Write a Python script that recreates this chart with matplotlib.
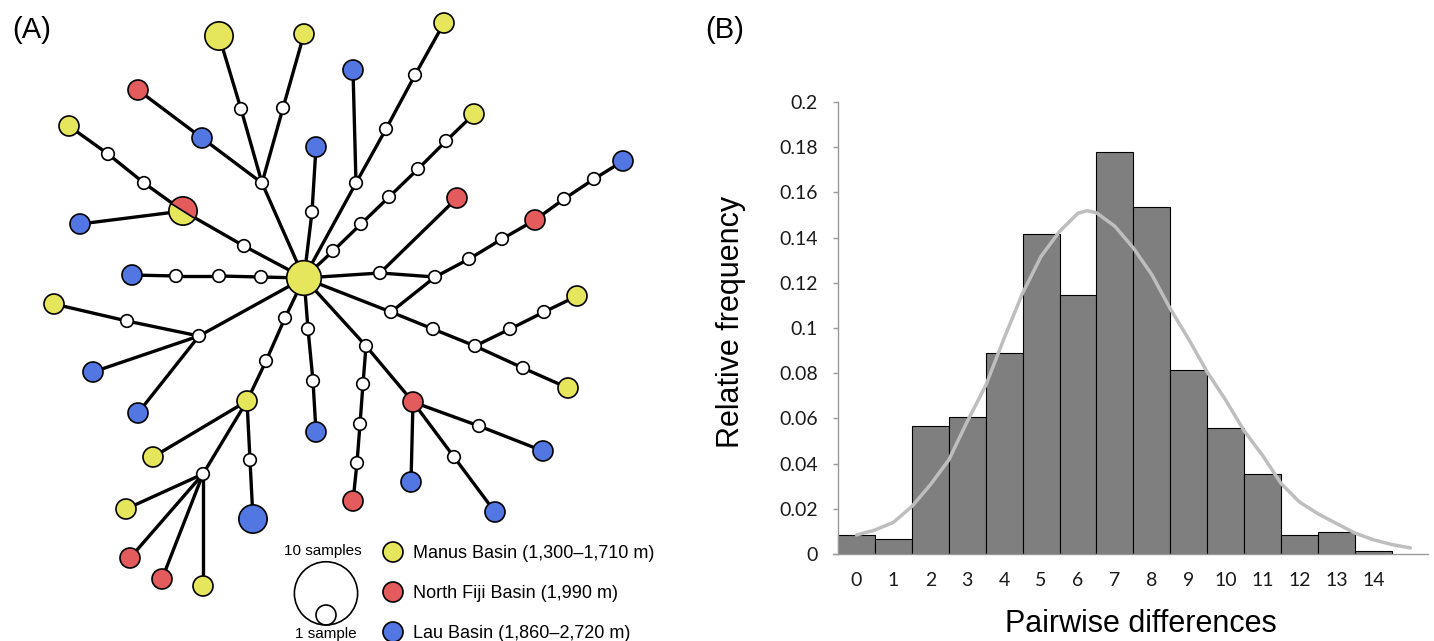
import math
import matplotlib
matplotlib.use("Agg")
import matplotlib.pyplot as plt
from matplotlib.patches import Circle, Wedge

# ---------------- Data: panel A (haplotype network) ----------------
region_names = ["Manus Basin (1,300\u20131,710 m)",
                "North Fiji Basin (1,990 m)",
                "Lau Basin (1,860\u20132,720 m)"]
region_colors = ["#E6E65C", "#E35B5C", "#5277E2"]

# node layout (x, y in panel units, y downward) and sample counts per region
node_x = [304, 262, 241, 219, 283, 304, 202, 138, 244, 183, 144, 108, 69, 80,
          261, 219, 176, 132, 312, 316, 356, 353, 386, 415, 444, 333, 361, 389,
          418, 446, 474, 380, 457, 435, 469, 502, 535, 564, 594, 623, 391, 433,
          475, 510, 544, 577, 523, 568, 366, 363, 360, 357, 353, 413, 479, 543,
          454, 495, 411, 308, 313, 316, 285, 266, 247, 153, 250, 253, 203, 126,
          130, 162, 203, 199, 127, 54, 93, 138]
node_y = [278, 183, 109, 36, 108, 34, 138, 90, 246, 211, 183, 154, 126, 224,
          277, 276, 276, 275, 212, 147, 183, 70, 129, 75, 23, 251, 224, 197,
          169, 141, 114, 273, 198, 277, 259, 239, 220, 199, 179, 161, 312, 329,
          346, 329, 312, 296, 368, 388, 346, 384, 424, 463, 501, 402, 426, 451,
          457, 512, 482, 329, 381, 432, 318, 361, 401, 457, 460, 519, 474, 509,
          558, 579, 586, 336, 321, 304, 372, 413]
manus = [3, 0, 0, 2, 0, 1, 0, 0, 0, 1, 0, 0, 1, 0,
         0, 0, 0, 0, 0, 0, 0, 0, 0, 0, 1, 0, 0, 0,
         0, 0, 1, 0, 0, 0, 0, 0, 0, 0, 0, 0, 0, 0,
         0, 0, 0, 1, 0, 1, 0, 0, 0, 0, 0, 0, 0, 0,
         0, 0, 0, 0, 0, 0, 0, 0, 1, 1, 0, 0, 0, 1,
         0, 0, 1, 0, 0, 1, 0, 0]
fiji = [0, 0, 0, 0, 0, 0, 0, 1, 0, 1, 0, 0, 0, 0,
        0, 0, 0, 0, 0, 0, 0, 0, 0, 0, 0, 0, 0, 0,
        0, 0, 0, 0, 1, 0, 0, 0, 1, 0, 0, 0, 0, 0,
        0, 0, 0, 0, 0, 0, 0, 0, 0, 0, 1, 1, 0, 0,
        0, 0, 0, 0, 0, 0, 0, 0, 0, 0, 0, 0, 0, 0,
        1, 1, 0, 0, 0, 0, 0, 0]
lau = [0, 0, 0, 0, 0, 0, 1, 0, 0, 0, 0, 0, 0, 1,
       0, 0, 0, 1, 0, 1, 0, 1, 0, 0, 0, 0, 0, 0,
       0, 0, 0, 0, 0, 0, 0, 0, 0, 0, 0, 1, 0, 0,
       0, 0, 0, 0, 0, 0, 0, 0, 0, 0, 0, 0, 0, 1,
       0, 1, 1, 0, 0, 1, 0, 0, 0, 0, 0, 2, 0, 0,
       0, 0, 0, 0, 0, 0, 1, 1]
edges = [(0, 1), (1, 2), (2, 3), (1, 4), (4, 5), (1, 6), (6, 7),
         (0, 8), (8, 9), (9, 10), (10, 11), (11, 12), (9, 13),
         (0, 14), (14, 15), (15, 16), (16, 17),
         (0, 18), (18, 19),
         (0, 20), (20, 21), (20, 22), (22, 23), (23, 24),
         (0, 25), (25, 26), (26, 27), (27, 28), (28, 29), (29, 30),
         (0, 31), (31, 32), (31, 33), (33, 34), (34, 35), (35, 36), (36, 37),
         (37, 38), (38, 39),
         (0, 40), (40, 33), (40, 41), (41, 42), (42, 43), (43, 44), (44, 45),
         (42, 46), (46, 47),
         (0, 48), (48, 49), (49, 50), (50, 51), (51, 52), (48, 53), (53, 54),
         (54, 55), (53, 56), (56, 57), (53, 58),
         (0, 59), (59, 60), (60, 61),
         (0, 62), (62, 63), (63, 64), (64, 65), (64, 66), (66, 67), (64, 68),
         (68, 69), (68, 70), (68, 71), (68, 72),
         (0, 73), (73, 74), (74, 75), (73, 76), (73, 77)]

# ---------------- Data: panel B (mismatch distribution) ----------------
pairwise = list(range(15))
rel_freq = [0.0083, 0.0065, 0.0566, 0.0608, 0.0891, 0.1416, 0.1145, 0.178,
            0.1536, 0.0813, 0.0559, 0.0353, 0.0082, 0.0098, 0.0014]
curve_x = [0, 0.5, 1, 1.5, 2, 2.5, 3, 3.5, 4, 4.5, 5, 5.5, 6, 6.25, 6.5, 7,
           7.5, 8, 8.5, 9, 9.5, 10, 10.5, 11, 11.5, 12, 12.5, 13, 13.5, 14,
           14.5, 15]
curve_y = [0.0084, 0.0106, 0.0140, 0.0210, 0.0306, 0.0416, 0.0586, 0.0745,
           0.0955, 0.1154, 0.1317, 0.1427, 0.1508, 0.1519, 0.1510, 0.1450,
           0.1354, 0.1236, 0.1085, 0.0950, 0.0805, 0.0681, 0.0545, 0.0436,
           0.0312, 0.0230, 0.0178, 0.0135, 0.0093, 0.0063, 0.0042, 0.0027]
y_ticks = [0, 0.02, 0.04, 0.06, 0.08, 0.1, 0.12, 0.14, 0.16, 0.18, 0.2]
y_tick_labels = ["0", "0.02", "0.04", "0.06", "0.08", "0.1", "0.12", "0.14",
                 "0.16", "0.18", "0.2"]

# ---------------- Figure ----------------
W, H = 1434, 641
fig = plt.figure(figsize=(W / 100, H / 100), dpi=100)
SANS = ["Liberation Sans", "DejaVu Sans"]
TICKF = ["Lato", "DejaVu Sans"]

# Panel A
axA = fig.add_axes([0, 0, 700 / W, 1])
axA.set_xlim(0, 700)
axA.set_ylim(H, 0)
axA.axis("off")

R1 = 10.0      # radius of a single-sample haplotype
R_MED = 6.3    # radius of median vectors

for a, b in edges:
    axA.plot([node_x[a], node_x[b]], [node_y[a], node_y[b]], color="black",
             lw=2.4, solid_capstyle="butt", zorder=1)

for i in range(len(node_x)):
    counts = [manus[i], fiji[i], lau[i]]
    n = sum(counts)
    cx, cy = node_x[i], node_y[i]
    if n == 0:
        axA.add_patch(Circle((cx, cy), R_MED, facecolor="white",
                             edgecolor="black", lw=1.2, zorder=3))
        continue
    r = R1 * math.sqrt(n)
    present = [k for k in range(3) if counts[k] > 0]
    if len(present) == 1:
        axA.add_patch(Circle((cx, cy), r, facecolor=region_colors[present[0]],
                             edgecolor="black", lw=1.2, zorder=3))
    else:
        # split along the edge that passes through the node
        nb = [b if a == i else a for a, b in edges if i in (a, b)]
        p, q = nb[0], nb[1]
        alpha = math.degrees(math.atan2(node_y[q] - node_y[p],
                                        node_x[q] - node_x[p]))
        if alpha > 90:
            alpha -= 180
        elif alpha <= -90:
            alpha += 180
        start = alpha - 180   # upper half first (y axis points down)
        for k in reversed(present):
            span = 360.0 * counts[k] / n
            axA.add_patch(Wedge((cx, cy), r, start, start + span,
                                facecolor=region_colors[k], edgecolor="none",
                                zorder=3))
            start += span
        axA.plot([cx - r * math.cos(math.radians(alpha)),
                  cx + r * math.cos(math.radians(alpha))],
                 [cy - r * math.sin(math.radians(alpha)),
                  cy + r * math.sin(math.radians(alpha))],
                 color="black", lw=1.2, zorder=4)
        axA.add_patch(Circle((cx, cy), r, facecolor="none", edgecolor="black",
                             lw=1.2, zorder=4))

# size legend
axA.add_patch(Circle((326, 625 - R1 * math.sqrt(10)), R1 * math.sqrt(10),
                     facecolor="none", edgecolor="black", lw=1.2))
axA.add_patch(Circle((326, 625 - R1), R1, facecolor="none",
                     edgecolor="black", lw=1.2))
axA.text(323, 551, "10 samples", fontsize=11, family=SANS, ha="center",
         va="center")
axA.text(326, 634, "1 sample", fontsize=11, family=SANS, ha="center",
         va="center")
# colour legend
for k, name in enumerate(region_names):
    ly = 552 + 40 * k
    axA.add_patch(Circle((393, ly), R1, facecolor=region_colors[k],
                         edgecolor="black", lw=1.2))
    axA.text(413, ly + 1, name, fontsize=13, family=SANS, ha="left",
             va="center")

axA.text(12, 30, "(A)", fontsize=21, family=SANS, ha="left", va="center")

# Panel B
left_px, right_px, top_px, bot_px = 833, 1428, 102, 554
axB = fig.add_axes([left_px / W, (H - bot_px) / H, (right_px - left_px) / W,
                    (bot_px - top_px) / H])
axB.bar(pairwise, rel_freq, width=1.0, color="#7F7F7F", edgecolor="black",
        lw=0.8, zorder=2)
axB.plot(curve_x, curve_y, color="#BEBEBE", lw=2.5, zorder=3,
         solid_capstyle="round", solid_joinstyle="round")
axB.set_xlim(-0.5 - 5 / 37.0, 15.48)
axB.set_ylim(0, 0.2)
axB.spines["top"].set_visible(False)
axB.spines["right"].set_visible(False)
axB.spines["left"].set_position(("data", -0.5))
for s in ("left", "bottom"):
    axB.spines[s].set_color("#9A9A9A")
    axB.spines[s].set_linewidth(1.0)
axB.set_yticks(y_ticks)
axB.set_yticklabels(y_tick_labels)
axB.set_xticks(pairwise)
axB.set_xticklabels([str(v) for v in pairwise])
axB.tick_params(axis="y", length=3.6, width=1.0, color="#9A9A9A", pad=11,
                labelsize=14)
axB.tick_params(axis="x", length=0, pad=13, labelsize=14)
for lab in axB.get_xticklabels() + axB.get_yticklabels():
    lab.set_family(TICKF)
    lab.set_color("#1a1a1a")

fig.text(731 / W, 1 - 322 / H, "Relative frequency", rotation=90,
         fontsize=22, family=SANS, ha="center", va="center")
fig.text(1141 / W, 1 - 632 / H, "Pairwise differences", fontsize=22,
         family=SANS, ha="center", va="baseline")
fig.text(705 / W, 1 - 30 / H, "(B)", fontsize=21, family=SANS, ha="left",
         va="center")

fig.savefig("out.png", dpi=100, facecolor="white")
